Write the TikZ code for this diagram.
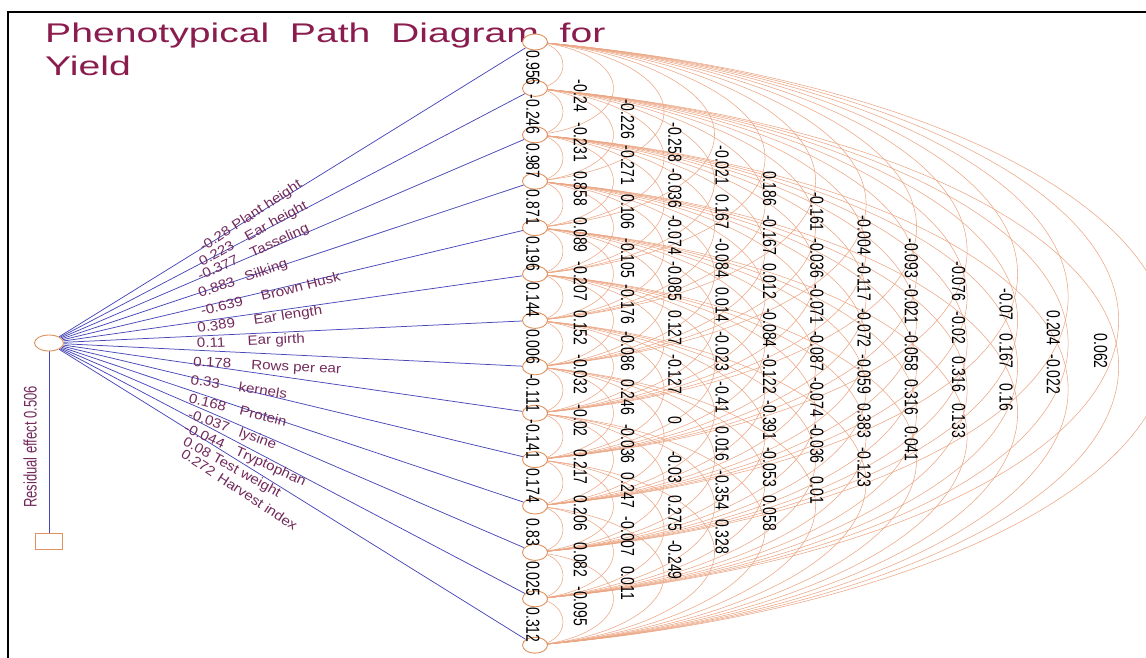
\documentclass[tikz,border=0pt]{standalone}
\usepackage{fontspec}
\setmainfont{Liberation Sans}
\usetikzlibrary{shapes.geometric}
\pgfdeclarelayer{bg}
\pgfsetlayers{bg,main}
\definecolor{arcc}{HTML}{EBA684}
\definecolor{nodec}{HTML}{E0925E}
\definecolor{bluec}{HTML}{4848B8}
\definecolor{labc}{HTML}{722A5C}
\definecolor{titc}{HTML}{8A1C4E}
\newcommand\vnum[1]{\scalebox{1.35}[1]{\rotatebox{-90}{#1}}}
\begin{document}
\begin{tikzpicture}[x=1pt,y=-1pt,
  vnode/.style={ellipse,draw=nodec,fill=white,line width=0.9pt,minimum width=25pt,minimum height=16pt,inner sep=0pt},
  corr/.style={draw=arcc,line width=0.55pt},
  pathline/.style={draw=bluec,line width=0.75pt},
  lab/.style={text=labc,font=\fontsize{13.5}{14}\selectfont,anchor=base west,inner sep=0pt},
  num/.style={font=\fontsize{14}{15}\selectfont,inner sep=0pt,text=black},
  title/.style={text=titc,font=\fontsize{27}{27}\selectfont,anchor=base west,inner sep=0pt}]
\useasboundingbox (0,0) rectangle (1146,658);
\draw[line width=1.5pt] (8,658) -- (8,12) -- (1146,12);
% title
\node[title] (tit1) at (45,43) {\scalebox{1.45}[1]{Phenotypical\hspace{0.25em} Path\hspace{0.25em} Diagram\hspace{0.25em} for}};
\node[title] (tit2) at (45,76) {\scalebox{1.45}[1]{Yield}};
% left nodes
\node[vnode,minimum width=29pt,minimum height=16pt] (L) at (49,343) {};
\node[draw=nodec,fill=white,line width=0.9pt,minimum width=27pt,minimum height=16pt,inner sep=0pt] (R) at (49,541) {};
\node[text=labc,font=\fontsize{13}{13}\selectfont,rotate=90,inner sep=0pt] (res) at (30,447) {\scalebox{1}[1.4]{Residual effect 0.506}};
% right nodes
\foreach \i in {1,...,14}{
  \pgfmathsetmacro\yy{42+46.4*(\i-1)}
  \node[vnode] (n\i) at (535,\yy) {};
}
\begin{pgfonlayer}{bg}
  \draw[pathline] (L) -- (R);
  \foreach \i in {1,...,14}{ \draw[pathline] (L) -- (n\i); }
  \foreach \k in {1,...,13}{
    \pgfmathtruncatemacro\last{14-\k}
    \pgfmathsetmacro\cc{15*(\k-1)}
    \pgfmathsetmacro\aa{28+65.5*(\k-1)}
    \pgfmathsetmacro\th{acos(\cc/\aa)}
    \pgfmathsetmacro\bb{23.2*\k/sin(\th)}
    \foreach \i in {1,...,\last}{
      \draw[corr] (n\i.center) arc[start angle=-\th,end angle=\th,x radius=\aa,y radius=\bb];
    }
  }
\end{pgfonlayer}
% path labels
\foreach \i/\x/\y/\v/\g/\nm in {
  1/203/252/-0.28/4/Plant height,
  2/202/267/0.223/13/Ear height,
  3/200/281/-0.377/13/Tasseling,
  4/200/298/0.883/10/Silking,
  5/202/316/-0.639/17/Brown Husk,
  6/198/333/0.389/17/Ear length,
  7/197/348/0.11/20/Ear girth,
  8/193/366/0.178/18/Rows per ear,
  9/190/384/0.33/17/kernels,
  10/188/402/0.168/13/Protein,
  11/187/418/-0.037/10/lysine,
  12/183/431/-0.044/12/Tryptophan,
  13/182/444/0.08/4/Test weight,
  14/180/456/0.272/5/Harvest index}{
  \pgfmathsetmacro\ang{atan((301-46.4*(\i-1))/458)}
  \node[lab,rotate=\ang] (lab\i) at (\x,\y) {\scalebox{1.12}[1]{\v\hspace{\g pt}\nm}};
}
% correlation values
\foreach \k/\vals in {
  1/{0.956,-0.246,0.987,0.871,0.196,0.144,0.006,-0.111,-0.141,0.174,0.83,0.025,0.312},
  2/{-0.24,-0.231,0.858,0.089,-0.207,0.152,-0.032,-0.02,0.217,0.206,0.082,-0.095},
  3/{-0.226,-0.271,0.106,-0.105,-0.176,-0.086,0.246,-0.036,0.247,-0.007,0.011},
  4/{-0.258,-0.036,-0.074,-0.085,0.127,-0.127,0,-0.03,0.275,-0.249},
  5/{-0.021,0.167,-0.084,0.014,-0.023,-0.41,0.016,-0.354,0.328},
  6/{0.186,-0.167,0.012,-0.084,-0.122,-0.391,-0.053,0.058},
  7/{-0.161,-0.036,-0.071,-0.087,-0.074,-0.036,0.01},
  8/{-0.004,-0.117,-0.072,-0.059,0.383,-0.123},
  9/{-0.093,-0.021,-0.058,0.316,0.041},
  10/{-0.076,-0.02,0.316,0.133},
  11/{-0.07,0.167,0.16},
  12/{0.204,-0.022},
  13/{0.062}}{
  \foreach \v [count=\i] in \vals {
    \pgfmathsetmacro\xx{533+47.3*(\k-1)}
    \pgfmathsetmacro\yy{42+46.4*(\i-1)+23.2*\k+(\k>1?7.5:3)}
    \node[num] (t\k-\i) at (\xx,\yy) {\vnum{\v}};
  }
}
\end{tikzpicture}
\end{document}
